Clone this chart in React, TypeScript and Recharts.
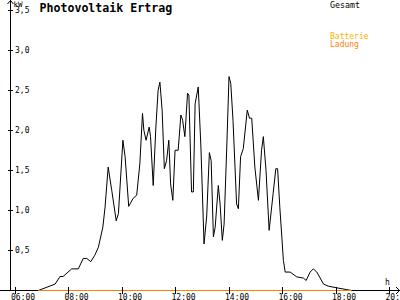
import React from "react";
import { LineChart, Line, XAxis, YAxis, ReferenceLine } from "recharts";

// time in minutes after midnight
const minutes = [
  412, 450, 461, 468, 487, 502, 513, 521, 530, 539, 547, 557, 562, 569, 577, 587, 592, 602, 607, 615,
  625, 633, 640, 646, 649, 654, 661, 664, 670, 676, 681, 685, 690, 695, 700, 705, 709, 714, 719, 726,
  732, 736, 741, 747, 750, 756, 760, 764, 771, 777, 784, 790, 796, 800, 805, 809, 816, 820, 825, 829,
  835, 840, 844, 849, 857, 861, 866, 872, 881, 886, 891, 898, 906, 913, 917, 923, 930, 939, 945, 949,
  954, 962, 966, 977, 992, 1007, 1013, 1022, 1029, 1037, 1052, 1063, 1082, 1115,
];
// Gesamt in kW
const gesamt = [
  0, 0.08, 0.175, 0.175, 0.27, 0.27, 0.4, 0.4, 0.36, 0.44, 0.54, 0.79, 1.04, 1.54, 1.25, 0.87, 0.96, 1.875, 1.67, 1.05,
  1.15, 1.19, 1.58, 2.21, 2.0, 1.875, 2.04, 1.92, 1.31, 2.04, 2.5, 2.6, 2.25, 1.52, 1.62, 1.875, 1.33, 1.125, 1.75, 1.75,
  2.19, 2.125, 1.92, 2.46, 2.44, 1.23, 1.23, 2.33, 2.54, 1.79, 0.58, 0.93, 1.72, 1.62, 0.67, 0.79, 1.31, 1.08, 0.625, 0.83,
  1.79, 2.67, 2.58, 2.125, 1.08, 1.02, 1.67, 1.77, 2.25, 2.15, 2.15, 1.54, 1.125, 1.75, 1.92, 1.5, 0.75, 1.21, 1.52, 1.52,
  1.04, 0.375, 0.23, 0.23, 0.17, 0.155, 0.125, 0.23, 0.27, 0.23, 0.08, 0.054, 0.033, 0,
];
// Batterie Ladung (kW), read at the start and end of the orange trace
const ladungMinutes = [412, 1115];
const ladung = [0, 0];

const xTicks = [360, 480, 600, 720, 840, 960, 1080, 1200];
const xTickLabels = ["06:00", "08:00", "10:00", "12:00", "14:00", "16:00", "18:00", "20:00"];
const yTicks = [0.5, 1.0, 1.5, 2.0, 2.5, 3.0, 3.5];
const yTickLabels = ["0,5", "1,0", "1,5", "2,0", "2,5", "3,0", "3,5"];

const data = minutes.map((t, i) => {
  const li = ladungMinutes.indexOf(t);
  return { t, gesamt: gesamt[i], ladung: li >= 0 ? ladung[li] : null };
});

const FONT = "DejaVu Sans Mono";
const PX_PER_MIN = 26.75 / 60;
const X_MIN = 360 - 15 / PX_PER_MIN;
const X_MAX = 360 + 385 / PX_PER_MIN;
const Y_AXIS_T = 360 - 5 / PX_PER_MIN;

const XTick = (props: any) => {
  const { x, payload } = props;
  const i = xTicks.indexOf(payload.value);
  return (
    <g>
      <line x1={x} x2={x} y1={287} y2={294} stroke="#000" shapeRendering="crispEdges" />
      <text x={x - 4} y={299.5} fontSize={8} fontFamily={FONT} fill="#000" textAnchor="start">
        {xTickLabels[i]}
      </text>
    </g>
  );
};

const YTick = (props: any) => {
  const { y, payload } = props;
  const i = yTicks.indexOf(payload.value);
  return (
    <g>
      <line x1={8} x2={13} y1={y} y2={y} stroke="#000" shapeRendering="crispEdges" />
      <text x={15} y={y} dy={3} fontSize={8} fontFamily={FONT} fill="#000" textAnchor="start">
        {yTickLabels[i]}
      </text>
    </g>
  );
};

export default function App() {
  return (
    <div style={{ position: "absolute", left: 0, top: 0, width: 400, height: 300, background: "#fff" }}>
      <svg width={400} height={300} style={{ position: "absolute", left: 0, top: 0 }}>
        <line x1={0} x2={400} y1={290.5} y2={290.5} stroke="#000" strokeWidth={1} />
      </svg>
      <div style={{ position: "absolute", left: 0, top: 0 }}>
        <LineChart
          width={400}
          height={300}
          data={data}
          margin={{ top: 0, right: 0, bottom: 0, left: 0 }}
        >
          <XAxis
            dataKey="t"
            type="number"
            domain={[X_MIN, X_MAX]}
            ticks={xTicks}
            height={9.5}
            tickLine={false}
            axisLine={false}
            tick={<XTick />}
            interval={0}
          />
          <YAxis
            type="number"
            domain={[0, 3.625]}
            ticks={yTicks}
            width={30}
            mirror
            axisLine={false}
            tickLine={false}
            tick={<YTick />}
            interval={0}
          />
          <ReferenceLine x={Y_AXIS_T} stroke="#000" shapeRendering="crispEdges" />
          <Line
            type="linear"
            dataKey="gesamt"
            name="Gesamt"
            stroke="#000"
            strokeWidth={1}
            dot={false}
            activeDot={false}
            isAnimationActive={false}
          />
          <Line
            type="linear"
            dataKey="ladung"
            name="Batterie Ladung"
            stroke="#FF8000"
            strokeWidth={1.2}
            connectNulls
            dot={false}
            activeDot={false}
            isAnimationActive={false}
          />
        </LineChart>
      </div>
      <svg
        width={400}
        height={300}
        style={{ position: "absolute", left: 0, top: 0, pointerEvents: "none" }}
      >
        <polyline points="7.5,4 10.5,0.5 13.5,4" fill="none" stroke="#000" strokeWidth={1} />
        <polyline points="396,287 399.5,290.5 396,294" fill="none" stroke="#000" strokeWidth={1} />
        <text x={13.5} y={7} fontSize={7.5} fontFamily={FONT} fill="#000">kW</text>
        <text x={385} y={284.5} fontSize={8} fontFamily={FONT} fill="#000">h</text>
        <text x={39.5} y={12} fontSize={11.6} fontWeight="bold" fontFamily={FONT} fill="#000">
          Photovoltaik Ertrag
        </text>
        <text x={330} y={8} fontSize={8.3} fontFamily={FONT} fill="#000">Gesamt</text>
        <text x={330} y={39} fontSize={8} fontFamily={FONT} fill="#FFB000">Batterie</text>
        <text x={330} y={46.5} fontSize={8} fontFamily={FONT} fill="#FF8000">Ladung</text>
      </svg>
    </div>
  );
}
